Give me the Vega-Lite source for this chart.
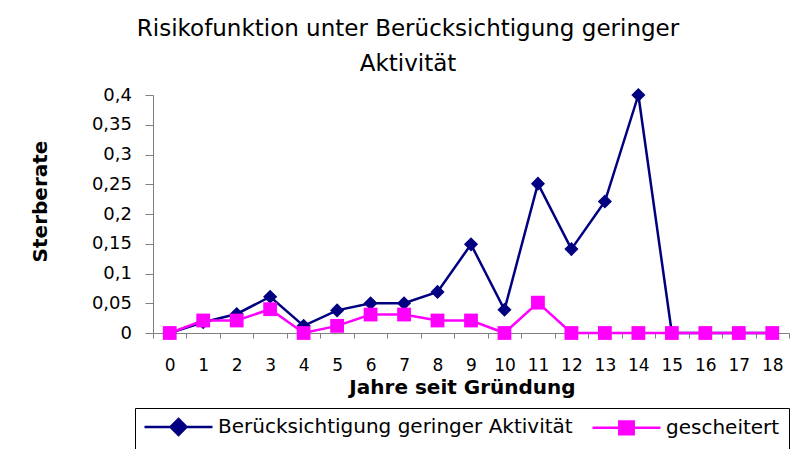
{
  "$schema": "https://vega.github.io/schema/vega-lite/v6.json",
  "width": 636,
  "height": 238,
  "autosize": "none",
  "padding": {"left": 153, "top": 95, "right": 3, "bottom": 116},
  "background": "white",
  "title": {
    "text": ["Risikofunktion unter Berücksichtigung geringer", "Aktivität"],
    "font": "DejaVu Sans",
    "fontSize": 23,
    "fontWeight": "normal",
    "color": "black",
    "lineHeight": 35,
    "anchor": "middle",
    "frame": "group",
    "dx": -63,
    "offset": -12.5,
    "baseline": "bottom"
  },
  "data": {
    "values": [
      {"jahr": 0, "serie": "Berücksichtigung geringer Aktivität", "rate": 0},
      {"jahr": 1, "serie": "Berücksichtigung geringer Aktivität", "rate": 0.018},
      {"jahr": 2, "serie": "Berücksichtigung geringer Aktivität", "rate": 0.032},
      {"jahr": 3, "serie": "Berücksichtigung geringer Aktivität", "rate": 0.061},
      {"jahr": 4, "serie": "Berücksichtigung geringer Aktivität", "rate": 0.012},
      {"jahr": 5, "serie": "Berücksichtigung geringer Aktivität", "rate": 0.038},
      {"jahr": 6, "serie": "Berücksichtigung geringer Aktivität", "rate": 0.05},
      {"jahr": 7, "serie": "Berücksichtigung geringer Aktivität", "rate": 0.05},
      {"jahr": 8, "serie": "Berücksichtigung geringer Aktivität", "rate": 0.069},
      {"jahr": 9, "serie": "Berücksichtigung geringer Aktivität", "rate": 0.149},
      {"jahr": 10, "serie": "Berücksichtigung geringer Aktivität", "rate": 0.039},
      {"jahr": 11, "serie": "Berücksichtigung geringer Aktivität", "rate": 0.251},
      {"jahr": 12, "serie": "Berücksichtigung geringer Aktivität", "rate": 0.141},
      {"jahr": 13, "serie": "Berücksichtigung geringer Aktivität", "rate": 0.221},
      {"jahr": 14, "serie": "Berücksichtigung geringer Aktivität", "rate": 0.4},
      {"jahr": 15, "serie": "Berücksichtigung geringer Aktivität", "rate": 0},
      {"jahr": 16, "serie": "Berücksichtigung geringer Aktivität", "rate": 0},
      {"jahr": 17, "serie": "Berücksichtigung geringer Aktivität", "rate": 0},
      {"jahr": 18, "serie": "Berücksichtigung geringer Aktivität", "rate": 0},
      {"jahr": 0, "serie": "gescheitert", "rate": 0},
      {"jahr": 1, "serie": "gescheitert", "rate": 0.021},
      {"jahr": 2, "serie": "gescheitert", "rate": 0.021},
      {"jahr": 3, "serie": "gescheitert", "rate": 0.04},
      {"jahr": 4, "serie": "gescheitert", "rate": 0},
      {"jahr": 5, "serie": "gescheitert", "rate": 0.012},
      {"jahr": 6, "serie": "gescheitert", "rate": 0.031},
      {"jahr": 7, "serie": "gescheitert", "rate": 0.031},
      {"jahr": 8, "serie": "gescheitert", "rate": 0.021},
      {"jahr": 9, "serie": "gescheitert", "rate": 0.021},
      {"jahr": 10, "serie": "gescheitert", "rate": 0},
      {"jahr": 11, "serie": "gescheitert", "rate": 0.051},
      {"jahr": 12, "serie": "gescheitert", "rate": 0},
      {"jahr": 13, "serie": "gescheitert", "rate": 0},
      {"jahr": 14, "serie": "gescheitert", "rate": 0},
      {"jahr": 15, "serie": "gescheitert", "rate": 0},
      {"jahr": 16, "serie": "gescheitert", "rate": 0},
      {"jahr": 17, "serie": "gescheitert", "rate": 0},
      {"jahr": 18, "serie": "gescheitert", "rate": 0}
    ]
  },
  "encoding": {
    "x": {
      "field": "jahr",
      "type": "ordinal",
      "scale": {"type": "band", "paddingInner": 0, "paddingOuter": 0},
      "axis": {
        "title": "Jahre seit Gründung",
        "titleFont": "DejaVu Sans",
        "titleFontWeight": "bold",
        "titleFontSize": 20,
        "titleColor": "black",
        "titleX": 309,
        "titleY": 60,
        "titleBaseline": "alphabetic",
        "labelAngle": 0,
        "labelFont": "DejaVu Sans",
        "labelFontSize": 17,
        "labelColor": "black",
        "labelBaseline": "alphabetic",
        "labelPadding": 32,
        "tickSize": 5,
        "tickBand": "extent",
        "domainColor": "#808080",
        "tickColor": "#808080",
        "grid": false
      }
    },
    "y": {
      "field": "rate",
      "type": "quantitative",
      "scale": {"domain": [0, 0.4], "nice": false, "zero": true},
      "axis": {
        "title": "Sterberate",
        "titleFont": "DejaVu Sans",
        "titleFontWeight": "bold",
        "titleFontSize": 20,
        "titleColor": "black",
        "titleX": -113,
        "titleY": 106,
        "titleAngle": -90,
        "titleBaseline": "middle",
        "titleAlign": "center",
        "values": [0, 0.05, 0.1, 0.15, 0.2, 0.25, 0.3, 0.35, 0.4],
        "labelExpr": "replace(format(datum.value, '.2~f'), '.', ',')",
        "labelFont": "DejaVu Sans",
        "labelFontSize": 18,
        "labelColor": "black",
        "labelPadding": 13.5,
        "labelFlush": false,
        "labelOverlap": false,
        "tickSize": 8,
        "domainColor": "#808080",
        "tickColor": "#808080",
        "grid": false
      }
    },
    "color": {
      "field": "serie",
      "type": "nominal",
      "scale": {
        "domain": ["Berücksichtigung geringer Aktivität", "gescheitert"],
        "range": ["#000080", "#FF00FF"]
      },
      "legend": {
        "title": null,
        "orient": "none",
        "legendX": -18,
        "legendY": 313,
        "direction": "horizontal",
        "strokeColor": "black",
        "fillColor": "white",
        "padding": 9,
        "labelFont": "DejaVu Sans",
        "labelFontSize": 20,
        "labelColor": "black",
        "labelLimit": 600,
        "labelBaseline": "middle",
        "symbolSize": 256,
        "symbolStrokeWidth": 2.5,
        "symbolOffset": 24.5,
        "labelOffset": 29.5,
        "columnPadding": 14,
        "encode": {
          "symbols": {
            "update": {
              "shape": {"signal": "datum.value === 'gescheitert' ? 'M-4.25,0H4.25M-0.9,-0.8H0.9V0.8H-0.9Z' : 'M-4.25,0H4.25M0,-1L1,0L0,1L-1,0Z'"},
              "size": {"value": 256},
              "fill": {"scale": "color", "field": "value"},
              "stroke": {"scale": "color", "field": "value"},
              "strokeWidth": {"value": 2.5},
              "opacity": {"value": 1}
            }
          }
        }
      }
    }
  },
  "layer": [
    {
      "transform": [{"filter": "datum.serie !== 'gescheitert'"}],
      "mark": {"type": "line", "strokeWidth": 2.5}
    },
    {
      "transform": [{"filter": "datum.serie !== 'gescheitert'"}],
      "mark": {"type": "point", "shape": "diamond", "filled": true, "size": 200, "opacity": 1}
    },
    {
      "transform": [{"filter": "datum.serie === 'gescheitert'"}],
      "mark": {"type": "line", "strokeWidth": 2.5}
    },
    {
      "transform": [{"filter": "datum.serie === 'gescheitert'"}],
      "mark": {"type": "point", "shape": "square", "filled": true, "size": 190, "opacity": 1}
    }
  ],
  "config": {
    "view": {"stroke": null}
  }
}
